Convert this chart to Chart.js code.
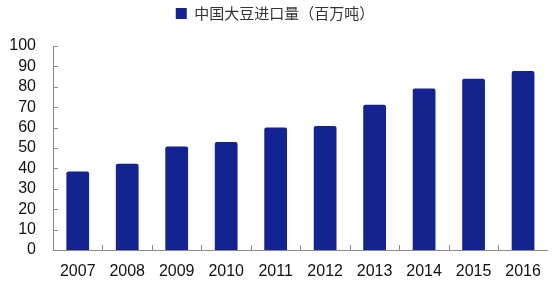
<!DOCTYPE html>
<html>
<head>
<meta charset="utf-8">
<script src="https://cdn.jsdelivr.net/npm/chart.js@4.4.0/dist/chart.umd.min.js"></script>
<style>
  html, body { margin: 0; padding: 0; background: #fff; }
  #wrap { width: 553px; height: 281px; }
</style>
</head>
<body>
<div id="wrap"><canvas id="barChart" width="553" height="281"></canvas></div>
<script>
// Data
const years = ['2007', '2008', '2009', '2010', '2011', '2012', '2013', '2014', '2015', '2016'];
const imports = [38.5, 42.3, 50.7, 53.0, 60.1, 60.8, 71.2, 79.2, 84.0, 87.8];
const seriesName = '中国大豆进口量（百万吨）';
const yTicks = [0, 10, 20, 30, 40, 50, 60, 70, 80, 90, 100];

const axisColor = '#8a8a8a';
const barColor = '#13238f';

// Small inward tick marks on both axes
const innerTicks = {
    id: 'innerTicks',
    afterInit(chart) {
        // leave some room under the legend
        const legend = chart.legend;
        const origFit = legend.fit;
        legend.fit = function() {
            origFit.call(this);
            this.height += 15;
        };
    },
    afterDraw(chart) {
        const ctx = chart.ctx;
        const x = chart.scales.x;
        const y = chart.scales.y;
        const area = chart.chartArea;
        ctx.save();
        ctx.strokeStyle = axisColor;
        ctx.lineWidth = 1;
        ctx.beginPath();
        yTicks.forEach(v => {
            const py = Math.round(y.getPixelForValue(v)) + 0.5;
            ctx.moveTo(area.left, py);
            ctx.lineTo(area.left + 5, py);
        });
        for (let i = 1; i < years.length; i++) {
            const px = Math.round((x.getPixelForValue(i - 1) + x.getPixelForValue(i)) / 2) + 0.5;
            ctx.moveTo(px, area.bottom);
            ctx.lineTo(px, area.bottom - 5);
        }
        ctx.stroke();
        ctx.restore();
    }
};

const ctx = document.getElementById('barChart').getContext('2d');
new Chart(ctx, {
    type: 'bar',
    data: {
        labels: years,
        datasets: [{
            label: seriesName,
            data: imports,
            backgroundColor: barColor,
            borderRadius: 2,
            borderSkipped: 'bottom',
            categoryPercentage: 1,
            barPercentage: 0.46
        }]
    },
    plugins: [innerTicks],
    options: {
        responsive: false,
        animation: false,
        layout: { padding: { top: 1, right: 3, bottom: 0, left: 0 } },
        plugins: {
            legend: {
                display: true,
                position: 'top',
                labels: {
                    boxWidth: 11,
                    boxHeight: 11,
                    padding: 5,
                    color: '#333',
                    font: { family: 'Noto Sans CJK SC', size: 15 }
                }
            },
            tooltip: { enabled: false }
        },
        scales: {
            x: {
                grid: { display: false, drawTicks: false, offset: true },
                border: { display: true, color: axisColor, width: 1 },
                afterFit(scale) { scale.height = 31; },
                ticks: {
                    color: '#111',
                    padding: 12,
                    maxRotation: 0,
                    font: { family: 'Liberation Sans', size: 16 }
                }
            },
            y: {
                min: 0,
                max: 100,
                grid: { display: false, drawTicks: false },
                border: { display: true, color: axisColor, width: 1 },
                afterFit(scale) { scale.width = 53; },
                ticks: {
                    stepSize: 10,
                    autoSkip: false,
                    color: '#111',
                    padding: 17,
                    font: { family: 'Liberation Sans', size: 16 }
                }
            }
        }
    }
});
</script>
</body>
</html>
